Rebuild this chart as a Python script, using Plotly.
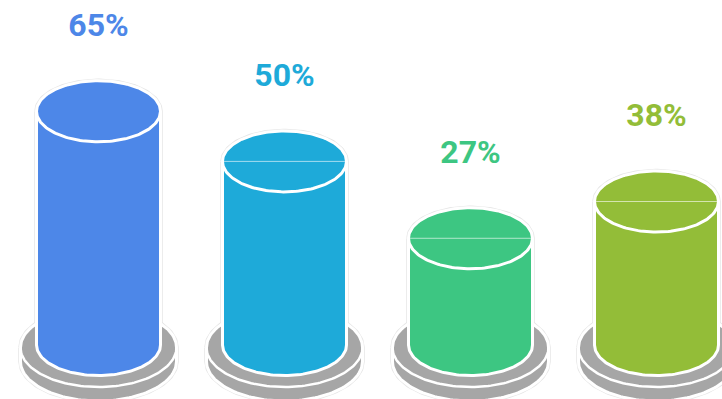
import numpy as np
import plotly.graph_objects as go

# Series values, one cylinder per entry
categories = [0, 1, 2, 3]
values = [65, 50, 27, 38]
labels = ["65%", "50%", "27%", "38%"]
colors = ["#4d87e8", "#1eaad9", "#3dc682", "#93bd38"]
draws_top_seam = [False, True, True, True]

WIDTH, HEIGHT = 722, 399

# Axis scale: pixels per category step and per value unit
PX_X = 186.0
PX_Y = 3.342
X_RANGE = [-98.5 / PX_X, (WIDTH - 98.5) / PX_X]
Y_RANGE = [(328.5 - HEIGHT) / PX_Y, 328.5 / PX_Y]

# Cylinder and pedestal proportions, in value-axis and category-axis units
CYL_RX = 62.0 / PX_X
CYL_RY = 30.5 / PX_Y
FLOOR = (328.0 - 344.5) / PX_Y
DISC_RX = 78.0 / PX_X
DISC_RY = 39.5 / PX_Y
DISC_Y = (328.0 - 347.0) / PX_Y
DISC_DROP = 14.0 / PX_Y
LABEL_GAP = 83.5 / PX_Y

GREY = "#a6a6a6"
HAIRLINE = "#e6e6e6"


def arc(cx, cy, rx, ry, start, stop, n=90):
    t = np.linspace(start, stop, n)
    return cx + rx * np.cos(t), cy + ry * np.sin(t)


def capsule(cx, top, bottom, rx, ry):
    """Outline of a vertical cylinder: upper arc at top, lower arc at bottom."""
    x1, y1 = arc(cx, top, rx, ry, np.pi, 0)
    x2, y2 = arc(cx, bottom, rx, ry, 0, -np.pi)
    return (np.r_[x1, x2, x1[0]], np.r_[y1, y2, y1[0]])


def area(x, y, fill, line, width):
    return go.Scatter(
        x=x, y=y, mode="lines", fill="toself", fillcolor=fill,
        line=dict(color=line, width=width), hoverinfo="skip", showlegend=False,
    )


def stroke(x, y, color, width):
    return go.Scatter(
        x=x, y=y, mode="lines", line=dict(color=color, width=width),
        hoverinfo="skip", showlegend=False,
    )


fig = go.Figure()

for cat, val, col, seam in zip(categories, values, colors, draws_top_seam):
    body_x, body_y = capsule(cat, val, FLOOR, CYL_RX, CYL_RY)
    disc_x, disc_y = capsule(cat, DISC_Y, DISC_Y - DISC_DROP, DISC_RX, DISC_RY)

    # Hairline halo of the cylinder, then the pedestal over it
    fig.add_trace(stroke(body_x, body_y, HAIRLINE, 4.5))
    fig.add_trace(stroke(disc_x, disc_y, HAIRLINE, 4.5))
    fig.add_trace(area(disc_x, disc_y, GREY, "#ffffff", 3))

    # White rim separating the two pedestal layers
    rim_x, rim_y = arc(cat, DISC_Y, DISC_RX, DISC_RY, np.pi, 2 * np.pi)
    fig.add_trace(stroke(rim_x, rim_y, "#ffffff", 2.5))

    # Cylinder body and the front edge of its top face
    fig.add_trace(area(body_x, body_y, col, "#ffffff", 3))
    lip_x, lip_y = arc(cat, val, CYL_RX, CYL_RY, np.pi, 2 * np.pi)
    fig.add_trace(stroke(lip_x, lip_y, "#ffffff", 3))
    if seam:
        fig.add_trace(stroke([cat - CYL_RX, cat + CYL_RX], [val, val],
                             "rgba(255,255,255,0.6)", 1))

# Value labels above each cylinder
for cat, val, label, col in zip(categories, values, labels, colors):
    fig.add_trace(go.Scatter(
        x=[cat], y=[val + LABEL_GAP], mode="text", text=[label],
        textposition="middle center",
        textfont=dict(family="Roboto", size=32, color=col, weight="bold"),
        hoverinfo="skip", showlegend=False,
    ))

fig.update_layout(
    width=WIDTH, height=HEIGHT,
    margin=dict(l=0, r=0, t=0, b=0),
    paper_bgcolor="#ffffff", plot_bgcolor="#ffffff",
    showlegend=False,
    xaxis=dict(range=X_RANGE, visible=False, fixedrange=True),
    yaxis=dict(range=Y_RANGE, visible=False, fixedrange=True),
)

fig.write_html("out.html", config={"displayModeBar": False})
